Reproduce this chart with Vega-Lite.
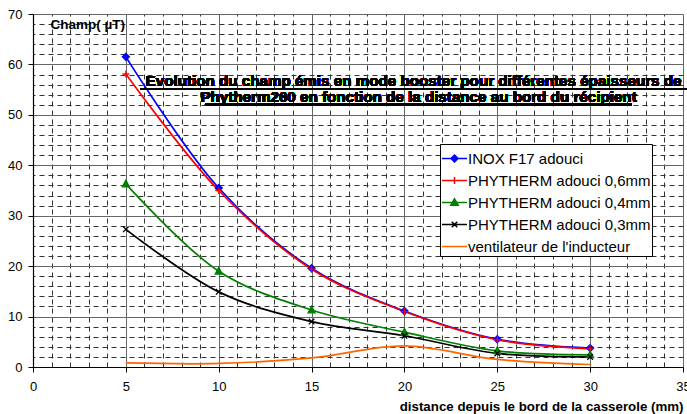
{
  "$schema": "https://vega.github.io/schema/vega-lite/v6.json",
  "width": 650,
  "height": 353,
  "autosize": {"type": "none"},
  "padding": {"left": 33, "top": 14, "right": 4, "bottom": 47},
  "background": "white",
  "config": {"view": {"stroke": null}, "font": "Liberation Sans"},
  "data": {"values": [
    {"series": "INOX F17 adouci", "x": 5, "y": 61.5},
    {"series": "INOX F17 adouci", "x": 10, "y": 35.5},
    {"series": "INOX F17 adouci", "x": 15, "y": 19.6},
    {"series": "INOX F17 adouci", "x": 20, "y": 11.1},
    {"series": "INOX F17 adouci", "x": 25, "y": 5.5},
    {"series": "INOX F17 adouci", "x": 30, "y": 3.75},
    {"series": "PHYTHERM adouci 0,6mm", "x": 5, "y": 58.1},
    {"series": "PHYTHERM adouci 0,6mm", "x": 10, "y": 35.0},
    {"series": "PHYTHERM adouci 0,6mm", "x": 15, "y": 19.4},
    {"series": "PHYTHERM adouci 0,6mm", "x": 20, "y": 11.0},
    {"series": "PHYTHERM adouci 0,6mm", "x": 25, "y": 5.4},
    {"series": "PHYTHERM adouci 0,6mm", "x": 30, "y": 3.6},
    {"series": "PHYTHERM adouci 0,4mm", "x": 5, "y": 36.3},
    {"series": "PHYTHERM adouci 0,4mm", "x": 10, "y": 19.0},
    {"series": "PHYTHERM adouci 0,4mm", "x": 15, "y": 11.3},
    {"series": "PHYTHERM adouci 0,4mm", "x": 20, "y": 6.9},
    {"series": "PHYTHERM adouci 0,4mm", "x": 25, "y": 3.2},
    {"series": "PHYTHERM adouci 0,4mm", "x": 30, "y": 2.4},
    {"series": "PHYTHERM adouci 0,3mm", "x": 5, "y": 27.3},
    {"series": "PHYTHERM adouci 0,3mm", "x": 10, "y": 14.9},
    {"series": "PHYTHERM adouci 0,3mm", "x": 15, "y": 9.0},
    {"series": "PHYTHERM adouci 0,3mm", "x": 20, "y": 6.2},
    {"series": "PHYTHERM adouci 0,3mm", "x": 25, "y": 2.7},
    {"series": "PHYTHERM adouci 0,3mm", "x": 30, "y": 2.0},
    {"series": "ventilateur de l'inducteur", "x": 5, "y": 0.8},
    {"series": "ventilateur de l'inducteur", "x": 10, "y": 0.7},
    {"series": "ventilateur de l'inducteur", "x": 15, "y": 1.8},
    {"series": "ventilateur de l'inducteur", "x": 20, "y": 4.2},
    {"series": "ventilateur de l'inducteur", "x": 25, "y": 1.5},
    {"series": "ventilateur de l'inducteur", "x": 30, "y": 0.5}
  ]},
  "resolve": {"axis": {"x": "independent", "y": "independent"}},
  "layer": [
    {
      "mark": {"type": "line", "interpolate": "catmull-rom", "strokeWidth": 1.7},
      "encoding": {
        "x": {"field": "x", "type": "quantitative", "scale": {"domain": [0, 35], "nice": false, "zero": false},
          "axis": {"values": [0, 5, 10, 15, 20, 25, 30, 35], "grid": true, "gridColor": "#666666", "gridWidth": 1,
            "domainColor": "#000000", "domainWidth": 1.2, "tickColor": "#000000", "tickSize": 5,
            "labelFontSize": 13, "labelPadding": 8, "labelColor": "#000000", "labelFlush": false, "labelOverlap": false,
            "title": "distance depuis le bord de la casserole (mm)", "titleFontSize": 13.3, "titleFontWeight": "bold",
            "titleColor": "#000000", "titleAnchor": "end", "titleAlign": "right", "titleX": 650, "titleY": 43, "titleBaseline": "alphabetic"}},
        "y": {"field": "y", "type": "quantitative", "scale": {"domain": [0, 70], "nice": false},
          "axis": {"values": [0, 10, 20, 30, 40, 50, 60, 70], "grid": true, "gridColor": "#666666", "gridWidth": 1,
            "domainColor": "#000000", "domainWidth": 1.2, "tickColor": "#000000", "tickSize": 5,
            "labelFontSize": 13, "labelPadding": 6, "labelColor": "#000000", "labelFlush": false, "labelOverlap": false,
            "title": "Champ( µT)", "titleAngle": 0, "titleX": 17, "titleY": 10, "titleAlign": "left", "titleBaseline": "middle",
            "titleFontSize": 13.5, "titleFontWeight": "bold", "titleColor": "#000000"}},
        "color": {"field": "series", "type": "nominal",
          "scale": {"domain": ["INOX F17 adouci", "PHYTHERM adouci 0,6mm", "PHYTHERM adouci 0,4mm", "PHYTHERM adouci 0,3mm", "ventilateur de l'inducteur"],
            "range": ["#0000FF", "#FF0000", "#008000", "#000000", "#FF6600"]},
          "legend": {"orient": "none", "legendX": 407, "legendY": 130, "title": null, "fillColor": "white", "strokeColor": "black",
            "padding": 1, "labelFontSize": 15, "labelColor": "#000000", "labelOffset": 0, "labelLimit": 400,
            "symbolType": "stroke", "symbolSize": 625, "symbolStrokeWidth": 1.5, "rowPadding": -2.1,
            "encode": {"symbols": {"update": {
              "shape": {"signal": "datum.value === 'INOX F17 adouci' ? 'M-1,0H1M0,-0.28L0.28,0L0,0.28L-0.28,0Z' : datum.value === 'PHYTHERM adouci 0,6mm' ? 'M-1,0H1M0,-0.28V0.28' : datum.value === 'PHYTHERM adouci 0,4mm' ? 'M-1,0H1M0,-0.3L0.3,0.22L-0.3,0.22Z' : datum.value === 'PHYTHERM adouci 0,3mm' ? 'M-1,0H1M-0.22,-0.22L0.22,0.22M-0.22,0.22L0.22,-0.22' : 'M-1,0H1'"},
              "stroke": {"scale": "color", "field": "value"},
              "fill": {"scale": "color", "field": "value"},
              "fillOpacity": {"signal": "datum.value === 'INOX F17 adouci' || datum.value === 'PHYTHERM adouci 0,4mm' ? 1 : 0"},
              "strokeWidth": {"value": 1.5}
            }}}}}
      }
    },
    {
      "transform": [{"filter": "datum.series !== \"ventilateur de l'inducteur\""}],
      "mark": {"type": "point", "size": 49, "strokeWidth": 1.3, "opacity": 1},
      "encoding": {
        "x": {"field": "x", "type": "quantitative", "scale": {"domain": [0, 35], "nice": false, "zero": false},
          "axis": {"orient": "top", "values": [1, 2, 3, 4, 6, 7, 8, 9, 11, 12, 13, 14, 16, 17, 18, 19, 21, 22, 23, 24, 26, 27, 28, 29, 31, 32, 33, 34],
            "grid": true, "gridDash": [5, 4], "gridColor": "#333333", "gridWidth": 1, "labels": false, "ticks": false, "domain": false, "title": null}},
        "y": {"field": "y", "type": "quantitative", "scale": {"domain": [0, 70], "nice": false},
          "axis": {"orient": "right", "values": [2, 4, 6, 8, 12, 14, 16, 18, 22, 24, 26, 28, 32, 34, 36, 38, 42, 44, 46, 48, 52, 54, 56, 58, 62, 64, 66, 68],
            "grid": true, "gridDash": [5, 4], "gridColor": "#333333", "gridWidth": 1, "labels": false, "ticks": false, "domain": false, "title": null}},
        "shape": {"field": "series", "type": "nominal",
          "scale": {"domain": ["INOX F17 adouci", "PHYTHERM adouci 0,6mm", "PHYTHERM adouci 0,4mm", "PHYTHERM adouci 0,3mm"],
            "range": ["M0,-1L1,0L0,1L-1,0Z", "M-1,0H1M0,-1V1", "M0,-1.1L1,0.8L-1,0.8Z", "M-0.8,-0.8L0.8,0.8M-0.8,0.8L0.8,-0.8"]},
          "legend": null},
        "stroke": {"field": "series", "type": "nominal",
          "scale": {"domain": ["INOX F17 adouci", "PHYTHERM adouci 0,6mm", "PHYTHERM adouci 0,4mm", "PHYTHERM adouci 0,3mm"],
            "range": ["#0000FF", "#FF0000", "#008000", "#000000"]}, "legend": null},
        "fill": {"field": "series", "type": "nominal",
          "scale": {"domain": ["INOX F17 adouci", "PHYTHERM adouci 0,6mm", "PHYTHERM adouci 0,4mm", "PHYTHERM adouci 0,3mm"],
            "range": ["#0000FF", "#FF0000", "#008000", "#000000"]}, "legend": null}
      }
    },
    {
      "mark": {"type": "text", "fontSize": 15.2, "fontWeight": "bold", "align": "center", "baseline": "alphabetic", "color": "#000000"},
      "encoding": {
        "x": {"datum": 20.49, "type": "quantitative", "scale": {"domain": [0, 35], "nice": false, "zero": false}, "axis": null},
        "y": {"datum": 55.72, "type": "quantitative", "scale": {"domain": [0, 70], "nice": false}, "axis": null},
        "text": {"value": "Evolution du champ émis en mode booster pour différentes épaisseurs de"}
      }
    },
    {
      "mark": {"type": "text", "fontSize": 15.2, "fontWeight": "bold", "align": "center", "baseline": "alphabetic", "color": "#000000"},
      "encoding": {
        "x": {"datum": 20.76, "type": "quantitative", "scale": {"domain": [0, 35], "nice": false, "zero": false}, "axis": null},
        "y": {"datum": 52.55, "type": "quantitative", "scale": {"domain": [0, 70], "nice": false}, "axis": null},
        "text": {"value": "Phytherm260 en fonction de la distance au bord du récipient"}
      }
    },
    {
      "mark": {"type": "rule", "color": "#000000", "strokeWidth": 1.5},
      "encoding": {
        "x": {"datum": 5.76, "type": "quantitative", "scale": {"domain": [0, 35], "nice": false, "zero": false}, "axis": null},
        "x2": {"datum": 35.2},
        "y": {"datum": 55.13, "type": "quantitative", "scale": {"domain": [0, 70], "nice": false}, "axis": null}
      }
    },
    {
      "mark": {"type": "rule", "color": "#000000", "strokeWidth": 1.5},
      "encoding": {
        "x": {"datum": 9.26, "type": "quantitative", "scale": {"domain": [0, 35], "nice": false, "zero": false}, "axis": null},
        "x2": {"datum": 32.25},
        "y": {"datum": 52.05, "type": "quantitative", "scale": {"domain": [0, 70], "nice": false}, "axis": null}
      }
    }
  ]
}
